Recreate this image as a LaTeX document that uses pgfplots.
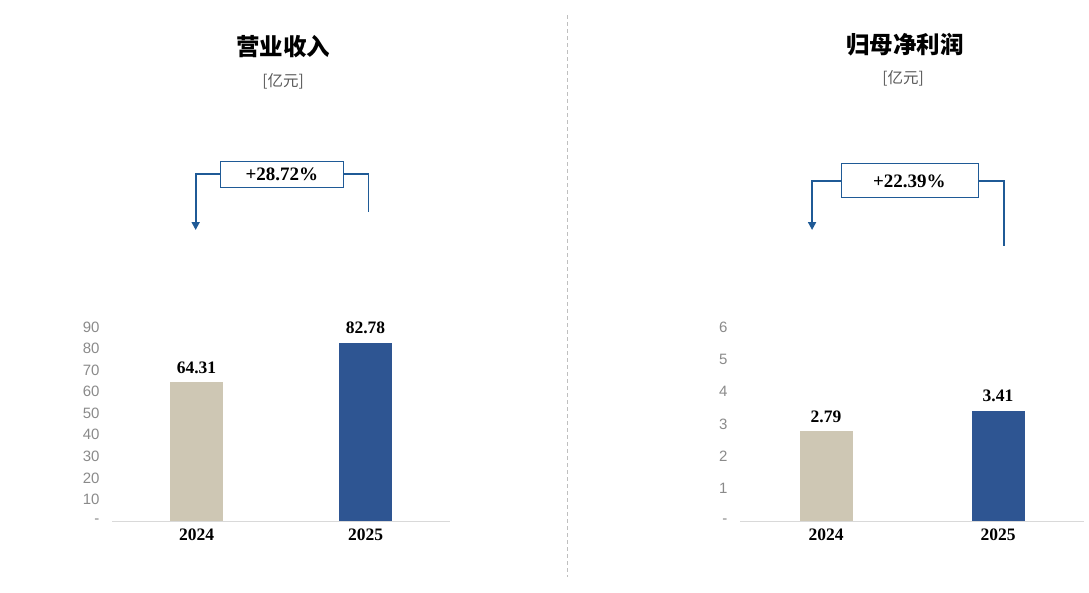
\documentclass[border=0pt]{standalone}
\usepackage{fontspec}
\usepackage{pgfplots}
\pgfplotsset{compat=1.18}
\usetikzlibrary{arrows.meta}
\setmainfont{Liberation Serif}
\newfontfamily\cjk{Noto Sans CJK SC}
\newfontfamily\sansf{Liberation Sans}
\definecolor{beige}{HTML}{CEC7B4}
\definecolor{navy}{HTML}{2E5592}
\definecolor{arrowc}{HTML}{1F5A96}
\definecolor{tickg}{HTML}{8A8A8A}
\pgfplotsset{
  panel/.style={
    scale only axis, clip=false,
    ybar, bar width=53pt, bar shift=0pt,
    axis x line*=bottom, axis y line*=left,
    y axis line style={draw=none},
    x axis line style={draw=black!15, line width=1pt, -},
    major tick length=0pt, tick style={draw=none},
    xtick={0,1}, xticklabels={2024,2025},
    xticklabel style={font=\fontsize{17.5}{20}\selectfont\bfseries, yshift=-4pt},
    yticklabel style={font=\fontsize{15}{18}\selectfont\sansf, text=tickg, xshift=-9pt},
    ymin=0,
    nodes near coords,
    nodes near coords style={font=\fontsize{17.5}{20}\selectfont\bfseries, text=black, yshift=5pt},
    /pgf/number format/.cd, fixed, fixed zerofill, precision=2, assume math mode=true,
  }
}
\begin{document}
\begin{tikzpicture}
\path[use as bounding box] (0,0) rectangle (1089pt,-592pt);
% divider
\draw[black!25, dash pattern=on 4pt off 3pt, line width=0.8pt] (567pt,-15pt) -- (567pt,-577pt);
% titles
\node[font=\fontsize{23.5}{27}\selectfont\cjk\bfseries] at (283pt,-47pt) {营业收入};
\node[font=\fontsize{15.5}{18}\selectfont\cjk, text=black!65] at (283pt,-81pt) {[亿元]};
\node[font=\fontsize{23.5}{27}\selectfont\cjk\bfseries] at (905pt,-45pt) {归母净利润};
\node[font=\fontsize{15.5}{18}\selectfont\cjk, text=black!65] at (903pt,-78pt) {[亿元]};

% left panel
\begin{axis}[panel, at={(112pt,-521pt)}, anchor=south west,
  width=338pt, height=194pt, xmin=-0.5, xmax=1.5, ymax=90,
  ytick={0,10,...,90}, yticklabels={-,10,20,30,40,50,60,70,80,90}]
\addplot[fill=beige, draw=none] coordinates {(0,64.31)};
\addplot[fill=navy, draw=none] coordinates {(1,82.78)};
\node[draw=arrowc, line width=0.8pt, fill=white, minimum width=123pt, minimum height=26pt, inner sep=0pt,
  font=\fontsize{19}{22}\selectfont\bfseries] (b1) at (axis cs:0.505,161) {+28.72\%};
\draw[arrowc, line width=1.8pt, -{Triangle[width=8pt,length=8pt]}] (b1.west) -| (axis cs:-0.005,135);
\draw[arrowc, line width=1.8pt] (b1.east) -| (axis cs:1.018,143.3);
\end{axis}

% right panel
\begin{axis}[panel, at={(740pt,-521pt)}, anchor=south west,
  width=344pt, height=194pt, xmin=-0.5, xmax=1.5, ymax=6,
  ytick={0,1,...,6}, yticklabels={-,1,2,3,4,5,6}]
\addplot[fill=beige, draw=none] coordinates {(0,2.79)};
\addplot[fill=navy, draw=none] coordinates {(1,3.41)};
\node[draw=arrowc, line width=0.8pt, fill=white, minimum width=137pt, minimum height=34pt, inner sep=0pt,
  font=\fontsize{19}{22}\selectfont\bfseries] (b2) at (axis cs:0.485,10.52) {+22.39\%};
\draw[arrowc, line width=1.8pt, -{Triangle[width=8pt,length=8pt]}] (b2.west) -| (axis cs:-0.081,9.0);
\draw[arrowc, line width=1.8pt] (b2.east) -| (axis cs:1.035,8.5);
\end{axis}
\end{tikzpicture}
\end{document}
